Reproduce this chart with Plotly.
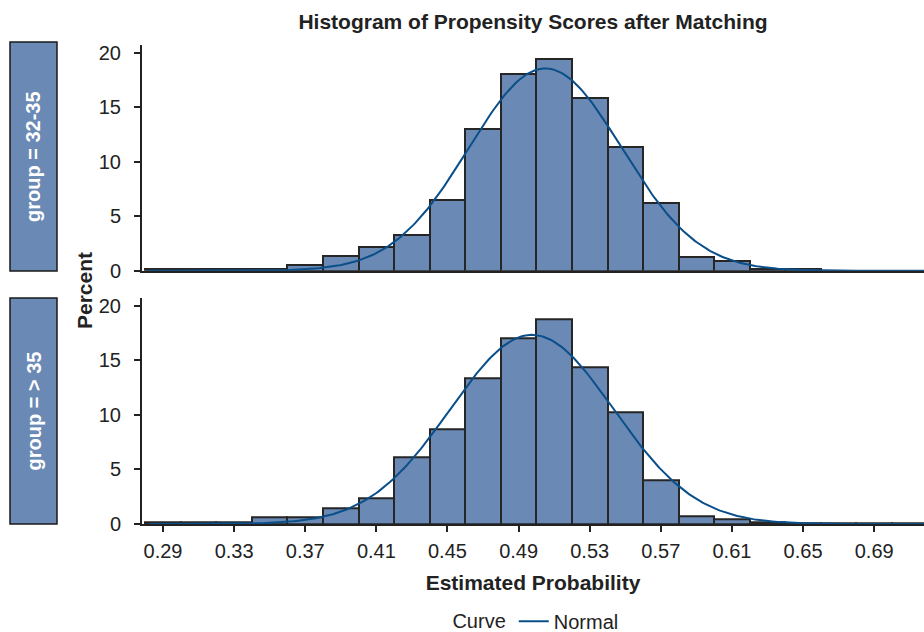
import numpy as np
import plotly.graph_objects as go

# ---------------- data ----------------
bin_mids = [0.29, 0.31, 0.33, 0.35, 0.37, 0.39, 0.41, 0.43, 0.45, 0.47, 0.49,
            0.51, 0.53, 0.55, 0.57, 0.59, 0.61, 0.63, 0.65, 0.67, 0.69, 0.71]
pct_32_35 = [0.12, 0.12, 0.12, 0.12, 0.5, 1.35, 2.2, 3.3, 6.5, 13.0, 18.0,
             19.4, 15.85, 11.35, 6.25, 1.25, 0.9, 0.2, 0.12, 0.0, 0.0, 0.0]
pct_gt_35 = [0.12, 0.12, 0.12, 0.58, 0.64, 1.47, 2.4, 6.1, 8.7, 13.4, 17.05,
             18.8, 14.4, 10.27, 4.0, 0.67, 0.4, 0.2, 0.1, 0.1, 0.1, 0.1]
bin_width = 0.02

# fitted normal curve parameters (mean, std) per group
normal_32_35 = (0.505, 0.043)
normal_gt_35 = (0.4975, 0.046)

group_labels = ["group = 32-35", "group = > 35"]
x_tick_vals = [0.29, 0.33, 0.37, 0.41, 0.45, 0.49, 0.53, 0.57, 0.61, 0.65, 0.69]
x_tick_text = ["0.29", "0.33", "0.37", "0.41", "0.45", "0.49", "0.53", "0.57", "0.61", "0.65", "0.69"]
y_tick_vals = [0, 5, 10, 15, 20]

# ---------------- style ----------------
FONT = "Liberation Sans, Arial, Helvetica, sans-serif"
BAR_FILL = "#6a89b4"
BAR_LINE = "#262626"
CURVE = "#0a4f8a"
AXIS = "#222222"
X_RANGE = [0.2782, 0.718]
Y_RANGE = [0, 20.7]


def normal_pct(xs, mu, sd):
    return 100 * bin_width * np.exp(-0.5 * ((xs - mu) / sd) ** 2) / (sd * np.sqrt(2 * np.pi))


xs = np.linspace(X_RANGE[0] + 0.004, X_RANGE[1], 400)

fig = go.Figure()
for i, (vals, params) in enumerate([(pct_32_35, normal_32_35), (pct_gt_35, normal_gt_35)]):
    xa = "x" if i == 0 else "x2"
    ya = "y" if i == 0 else "y2"
    fig.add_trace(go.Bar(
        x=bin_mids, y=vals, width=bin_width, xaxis=xa, yaxis=ya,
        marker=dict(color=BAR_FILL, line=dict(color=BAR_LINE, width=2)),
        showlegend=False, hoverinfo="x+y"))
    fig.add_trace(go.Scatter(
        x=xs, y=normal_pct(xs, *params), xaxis=xa, yaxis=ya, mode="lines",
        line=dict(color=CURVE, width=2), name="Normal",
        showlegend=(i == 0), legendgroup="normal"))

axis_common = dict(showline=True, linewidth=2, linecolor=AXIS, showgrid=False,
                   zeroline=False, automargin=False,
                   tickfont=dict(family=FONT, size=20, color="#222"))

fig.update_layout(
    width=924, height=632,
    margin=dict(l=142, r=0, t=45, b=108, autoexpand=False),
    plot_bgcolor="white", paper_bgcolor="white",
    bargap=0,
    font=dict(family=FONT, color="#222"),
    title=dict(text="<b>Histogram of Propensity Scores after Matching</b>",
               x=0.5, xref="paper", xanchor="center", y=0.965, yref="container",
               yanchor="middle", font=dict(family=FONT, size=21, color="#222")),
    xaxis=dict(**axis_common, domain=[0, 1], anchor="y", range=X_RANGE,
               showticklabels=False, ticks="", matches="x2"),
    xaxis2=dict(**axis_common, domain=[0, 1], anchor="y2", range=X_RANGE,
                tickmode="array", tickvals=x_tick_vals, ticktext=x_tick_text,
                ticks="outside", ticklen=6, tickwidth=2, tickcolor=AXIS,
                ticklabelstandoff=2,
                title=dict(text="<b>Estimated Probability</b>", standoff=14,
                           font=dict(family=FONT, size=21, color="#222"))),
    yaxis=dict(**axis_common, domain=[0.5288, 1], anchor="x", range=Y_RANGE,
               tickmode="array", tickvals=y_tick_vals, ticks="outside",
               ticklen=6, tickwidth=2, tickcolor=AXIS, ticklabelstandoff=9),
    yaxis2=dict(**axis_common, domain=[0, 0.4712], anchor="x2", range=Y_RANGE,
                tickmode="array", tickvals=y_tick_vals, ticks="outside",
                ticklen=6, tickwidth=2, tickcolor=AXIS, ticklabelstandoff=9),
    legend=dict(orientation="h", x=0.505, xanchor="center",
                yref="container", y=0.017, yanchor="middle",
                title=dict(text="Curve", side="left", font=dict(family=FONT, size=20, color="#222")),
                font=dict(family=FONT, size=20, color="#222"), bgcolor="rgba(0,0,0,0)"),
)

# strip (group) labels on the left
strip_boxes = [(1.0063, 0.5282), (0.4718, 0.0)]
for (y1, y0), lab in zip(strip_boxes, group_labels):
    fig.add_shape(type="rect", xref="paper", yref="paper",
                  x0=-0.1688, x1=-0.1087, y0=y0, y1=y1,
                  fillcolor=BAR_FILL, line=dict(color="#1a1a1a", width=1.5), layer="above")
    fig.add_annotation(xref="paper", yref="paper", x=-0.1387, y=(y0 + y1) / 2,
                       xanchor="center", yanchor="middle",
                       text=f"<b>{lab}</b>", textangle=-90, showarrow=False,
                       font=dict(family=FONT, size=20, color="white"))

fig.add_annotation(xref="paper", yref="paper", x=-0.0742, y=0.4885,
                   xanchor="center", yanchor="middle",
                   text="<b>Percent</b>", textangle=-90, showarrow=False,
                   font=dict(family=FONT, size=21, color="#222"))

fig.write_html("out.html")
